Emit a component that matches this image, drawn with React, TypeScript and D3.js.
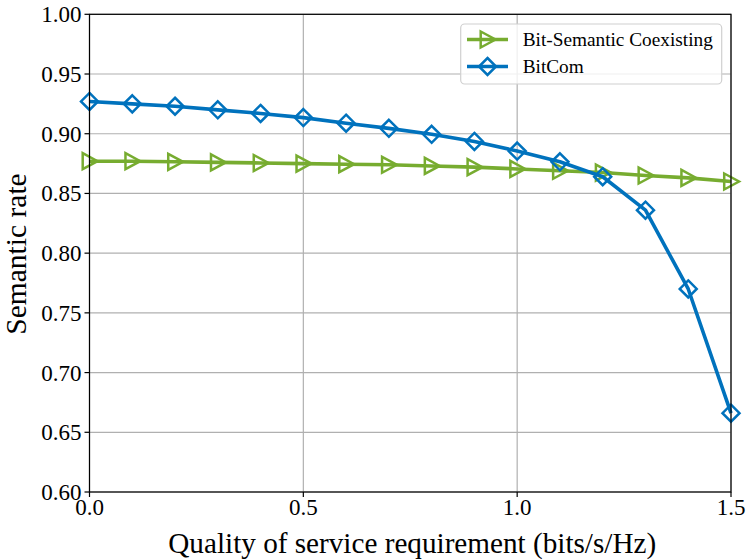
import React from "react";
import * as d3 from "d3";

const qos = [0.0, 0.1, 0.2, 0.3, 0.4, 0.5, 0.6, 0.7, 0.8, 0.9, 1.0, 1.1, 1.2, 1.3, 1.4, 1.5];
const coexisting = [0.877, 0.877, 0.8765, 0.876, 0.8755, 0.875, 0.8745, 0.874, 0.873, 0.872, 0.8705, 0.869, 0.8675, 0.865, 0.863, 0.860];
const bitcom = [0.927, 0.925, 0.923, 0.920, 0.917, 0.9135, 0.9088, 0.9045, 0.8995, 0.8935, 0.8855, 0.8765, 0.864, 0.836, 0.770, 0.666];
const xTicks = [0.0, 0.5, 1.0, 1.5];
const yTicks = [0.6, 0.65, 0.7, 0.75, 0.8, 0.85, 0.9, 0.95, 1.0];
const seriesNames = ["Bit-Semantic Coexisting", "BitCom"];

const GREEN = "#77AC30";
const BLUE = "#0072BD";
const FONT = "'Liberation Serif', 'Times New Roman', serif";

const W = 747, H = 560;
const L = 89.5, R = 731, T = 14.3, B = 492;

function Triangle({ x, y, color }: { x: number; y: number; color: string }) {
  const s = 8;
  const p = `M${x - s * 0.85},${y - s} L${x + s},${y} L${x - s * 0.85},${y + s} Z`;
  return <path d={p} fill="none" stroke={color} strokeWidth={2.5} strokeLinejoin="miter" />;
}
function Diamond({ x, y, color }: { x: number; y: number; color: string }) {
  const s = 8.5;
  const p = `M${x},${y - s} L${x + s},${y} L${x},${y + s} L${x - s},${y} Z`;
  return <path d={p} fill="none" stroke={color} strokeWidth={2.5} />;
}

export default function App() {
  const x = d3.scaleLinear().domain([0, 1.5]).range([L, R]);
  const y = d3.scaleLinear().domain([0.6, 1.0]).range([B, T]);
  const line = d3.line<number>().x((_, i) => x(qos[i])).y((d) => y(d));

  const lx0 = 467, lx1 = 508, lxt = 522.7;
  const ly = [39.5, 66.5];

  return (
    <svg width={W} height={H} style={{ position: "absolute", left: 0, top: 0, background: "#fff" }}>
      <rect x={0} y={0} width={W} height={H} fill="#fff" />
      {yTicks.map((t) => (
        <line key={"gy" + t} x1={L} x2={R} y1={y(t)} y2={y(t)} stroke="#b0b0b0" strokeWidth={1.2} />
      ))}
      {xTicks.map((t) => (
        <line key={"gx" + t} x1={x(t)} x2={x(t)} y1={T} y2={B} stroke="#b0b0b0" strokeWidth={1.2} />
      ))}
      <path d={line(coexisting) || ""} fill="none" stroke={GREEN} strokeWidth={3.6} strokeLinejoin="round" />
      {coexisting.map((v, i) => (
        <Triangle key={"t" + i} x={x(qos[i])} y={y(v)} color={GREEN} />
      ))}
      <path d={line(bitcom) || ""} fill="none" stroke={BLUE} strokeWidth={3.6} strokeLinejoin="round" />
      {bitcom.map((v, i) => (
        <Diamond key={"d" + i} x={x(qos[i])} y={y(v)} color={BLUE} />
      ))}
      <rect x={L} y={T} width={R - L} height={B - T} fill="none" stroke="#000" strokeWidth={1.2} />
      {yTicks.map((t) => (
        <g key={"ty" + t}>
          <line x1={L - 5} x2={L} y1={y(t)} y2={y(t)} stroke="#000" strokeWidth={1.2} />
          <text x={L - 8} y={y(t)} dy="0.35em" textAnchor="end" fontFamily={FONT} fontSize={23} fill="#000">
            {t.toFixed(2)}
          </text>
        </g>
      ))}
      {xTicks.map((t) => (
        <g key={"tx" + t}>
          <line x1={x(t)} x2={x(t)} y1={B} y2={B + 5} stroke="#000" strokeWidth={1.2} />
          <text x={x(t)} y={B + 23} textAnchor="middle" fontFamily={FONT} fontSize={23} fill="#000">
            {t.toFixed(1)}
          </text>
        </g>
      ))}
      <text x={(L + R) / 2 + 2} y={553} textAnchor="middle" fontFamily={FONT} fontSize={29.2} fill="#000">
        Quality of service requirement (bits/s/Hz)
      </text>
      <text
        transform={`translate(26,${254}) rotate(-90)`}
        textAnchor="middle"
        fontFamily={FONT}
        fontSize={29.5}
        fill="#000"
      >
        Semantic rate
      </text>
      <rect x={460.7} y={24} width={261} height={60} rx={4} fill="#fff" fillOpacity={0.8} stroke="#d0d0d0" strokeWidth={1.2} />
      <line x1={lx0} x2={lx1} y1={ly[0]} y2={ly[0]} stroke={GREEN} strokeWidth={3.6} />
      <Triangle x={(lx0 + lx1) / 2} y={ly[0]} color={GREEN} />
      <text x={lxt} y={ly[0]} dy="0.35em" fontFamily={FONT} fontSize={19.3} fill="#000">
        {seriesNames[0]}
      </text>
      <line x1={lx0} x2={lx1} y1={ly[1]} y2={ly[1]} stroke={BLUE} strokeWidth={3.6} />
      <Diamond x={(lx0 + lx1) / 2} y={ly[1]} color={BLUE} />
      <text x={lxt} y={ly[1]} dy="0.35em" fontFamily={FONT} fontSize={19.3} fill="#000">
        {seriesNames[1]}
      </text>
    </svg>
  );
}
